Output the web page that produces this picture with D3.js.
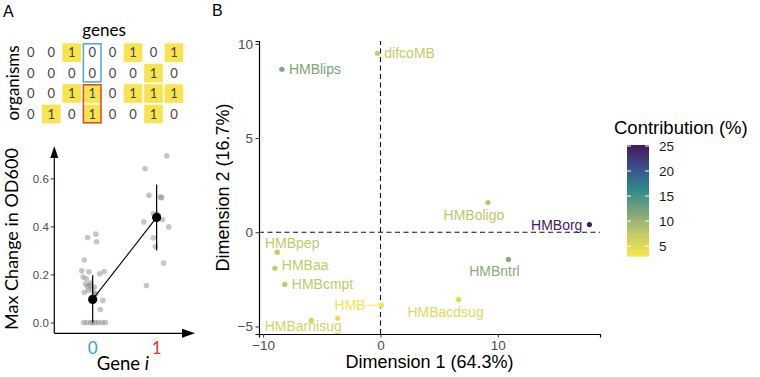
<!DOCTYPE html>
<html>
<head>
<meta charset="utf-8">
<script src="https://cdn.jsdelivr.net/npm/d3@7"></script>
<style>
  body { margin: 0; background: #fff; }
  svg { display: block; }
</style>
</head>
<body>
<svg id="fig" width="760" height="377"></svg>
<script>
// ---------------- panel A data ----------------
const genes = d3.range(8)
const organisms = d3.range(4)
const presence = [
  [0, 0, 1, 0, 0, 1, 0, 1],
  [0, 0, 0, 0, 0, 0, 1, 0],
  [0, 0, 1, 1, 0, 1, 1, 1],
  [0, 1, 0, 1, 0, 0, 1, 0]
]
const geneStates = [0, 1]
// max change in OD600, with the horizontal jitter (in category units)
const od0 = [0.354, 0.368, 0.336, 0.26, 0.215, 0.211, 0.203, 0.212, 0.189, 0.182, 0.165, 0.155,
             0.148, 0.151, 0.138, 0.135, 0.123, 0.126, 0.16, 0.12, 0.092, 0.054,
             0, 0, 0, 0, 0, 0, 0, 0]
const jit0 = [-0.08, 0.05, 0.06, -0.13, -0.17, -0.06, 0.11, 0.18, -0.15, -0.1, -0.03, -0.04,
              0.03, -0.08, -0.01, -0.07, 0.02, -0.13, -0.11, 0.05, 0.16, 0.12,
              -0.14, -0.09, -0.03, 0, 0.04, 0.09, 0.15, 0.2]
const od1 = [0.694, 0.64, 0.53, 0.522, 0.52, 0.419, 0.454, 0.45, 0.428, 0.398, 0.353, 0.315, 0.248, 0.154]
const jit1 = [0.16, -0.18, -0.12, 0.06, 0.08, -0.2, -0.05, 0.02, 0.09, 0.19, -0.05, -0.02, 0.11, -0.16]
const odMean = [0.096, 0.4375]
const odLow = [0, 0.30]
const odHigh = [0.197, 0.575]
const odTicks = [0, 0.2, 0.4, 0.6]

// ---------------- panel B data ----------------
const conds = ["HMBlips", "difcoMB", "HMBoligo", "HMBorg", "HMBntrl", "HMBacdsug",
               "HMBpep", "HMBaa", "HMBcmpt", "HMBarnisug", "HMBx", "HMB"]
const condLabels = ["HMBlips", "difcoMB", "HMBoligo", "HMBorg", "HMBntrl", "HMBacdsug",
                    "HMBpep", "HMBaa", "HMBcmpt", "HMBarnisug", "", "HMB"]
const dim1 = [-8.4, -0.27, 9.15, 17.8, 10.9, 6.65, -8.8, -9.0, -8.15, -5.9, -3.64, 0.1]
const dim2 = [8.65, 9.5, 1.58, 0.41, -1.44, -3.58, -1.06, -1.91, -2.77, -4.68, -4.56, -3.87]
const contrib = [11.8, 7.3, 7.8, 24.8, 11.0, 5.0, 7.6, 7.4, 7.6, 6.0, 4.0, 3.2]
const dimTicksX = [-10, 0, 10]
const dimTicksY = [-5, 0, 5, 10]
const legendTicks = [5, 10, 15, 20, 25]

const svg = d3.select("#fig")
const sans = "'Liberation Sans', Arial, sans-serif"
const humanist = "Lato, 'Open Sans', sans-serif"

// panel letters
svg.append("text").attr("x", 3).attr("y", 17).text("A")
  .attr("font-family", sans).attr("font-size", 16)
svg.append("text").attr("x", 212).attr("y", 16).text("B")
  .attr("font-family", sans).attr("font-size", 16)

// ---------------- A: presence matrix ----------------
const gx = d3.scaleBand().domain(genes).range([21.6, 183.2]).paddingInner(0.09)
const oy = d3.scaleBand().domain(organisms).range([43.3, 123.3]).paddingInner(0.09)

const mat = svg.append("g")
const cells = []
organisms.forEach(r => genes.forEach(c => cells.push({r, c, v: presence[r][c]})))

mat.selectAll("rect.cell")
  .data(cells.filter(d => d.v == 1))
  .join("rect")
    .attr("class", "cell")
    .attr("x", d => gx(d.c))
    .attr("y", d => oy(d.r))
    .attr("width", gx.bandwidth())
    .attr("height", oy.bandwidth())
    .attr("fill", "#f8e44e")

mat.selectAll("text.digit")
  .data(cells)
  .join("text")
    .attr("class", "digit")
    .attr("x", d => gx(d.c) + gx.bandwidth() / 2)
    .attr("y", d => oy(d.r) + oy.bandwidth() / 2)
    .attr("dy", "0.36em")
    .attr("text-anchor", "middle")
    .attr("font-family", humanist)
    .attr("font-size", 13)
    .attr("fill", "#444")
    .text(d => d.v)

// highlight boxes around gene column 3
const boxCol = 3
const boxes = [{rows: [0, 1], color: "#4ea3dc"}, {rows: [2, 3], color: "#e2462f"}]
mat.selectAll("rect.box")
  .data(boxes)
  .join("rect")
    .attr("class", "box")
    .attr("x", gx(boxCol) + 0.5)
    .attr("y", d => oy(d.rows[0]) + 0.5)
    .attr("width", gx.bandwidth() - 1)
    .attr("height", d => oy(d.rows[1]) + oy.bandwidth() - oy(d.rows[0]) - 1)
    .attr("fill", "none")
    .attr("stroke", d => d.color)
    .attr("stroke-width", 1.5)

svg.append("text").attr("x", 104).attr("y", 36).attr("text-anchor", "middle")
  .attr("font-family", humanist).attr("font-size", 17).text("genes")
svg.append("text").attr("transform", "translate(19,83) rotate(-90)").attr("text-anchor", "middle")
  .attr("font-family", humanist).attr("font-size", 17).text("organisms")

// ---------------- A: jitter plot ----------------
const ax = d3.scaleLinear().domain([-0.6, 1.6]).range([54.3, 195])
const ay = d3.scaleLinear().domain([-0.045, 0.735]).range([333.3, 146])

const gA = svg.append("g")

// axes with arrow heads
gA.append("line").attr("x1", ax.range()[0]).attr("x2", ax.range()[1] - 8)
  .attr("y1", ay.range()[0]).attr("y2", ay.range()[0]).attr("stroke", "#000").attr("stroke-width", 1.2)
gA.append("line").attr("x1", ax.range()[0]).attr("x2", ax.range()[0])
  .attr("y1", ay.range()[0]).attr("y2", ay.range()[1] + 8).attr("stroke", "#000").attr("stroke-width", 1.2)
gA.append("path")
  .attr("d", `M${ax.range()[1]},${ay.range()[0]} l-13,-4.5 l0,9 Z`).attr("fill", "#000")
gA.append("path")
  .attr("d", `M${ax.range()[0]},${ay.range()[1]} l-4,12 l8,0 Z`).attr("fill", "#000")

const yAxisA = gA.append("g").attr("transform", `translate(${ax.range()[0]},0)`)
  .call(d3.axisLeft(ay).tickValues(odTicks).tickFormat(d3.format(".1f")).tickSize(3.5).tickPadding(2))
yAxisA.select(".domain").remove()
yAxisA.selectAll("line").attr("stroke", "#333")
yAxisA.selectAll("text").attr("font-family", sans).attr("font-size", 11.5).attr("fill", "#4d4d4d")

const pts = od0.map((v, i) => ({g: 0, v, j: jit0[i]}))
  .concat(od1.map((v, i) => ({g: 1, v, j: jit1[i]})))
gA.selectAll("circle.pt")
  .data(pts)
  .join("circle")
    .attr("class", "pt")
    .attr("cx", d => ax(d.g + d.j))
    .attr("cy", d => ay(d.v))
    .attr("r", 2.8)
    .attr("fill", "#808080")
    .attr("fill-opacity", 0.45)

// error bars, mean line, means
gA.selectAll("line.err")
  .data(geneStates)
  .join("line")
    .attr("class", "err")
    .attr("x1", d => ax(d)).attr("x2", d => ax(d))
    .attr("y1", d => ay(odLow[d])).attr("y2", d => ay(odHigh[d]))
    .attr("stroke", "#000").attr("stroke-width", 1.2)
gA.append("path")
  .datum(geneStates)
  .attr("d", d3.line().x(d => ax(d)).y(d => ay(odMean[d])))
  .attr("fill", "none").attr("stroke", "#000").attr("stroke-width", 1.1)
gA.selectAll("circle.mean")
  .data(geneStates)
  .join("circle")
    .attr("class", "mean")
    .attr("cx", d => ax(d)).attr("cy", d => ay(odMean[d]))
    .attr("r", 4.6).attr("fill", "#000")

const stateColor = ["#3a9fd9", "#e2352d"]
gA.selectAll("text.state")
  .data(geneStates)
  .join("text")
    .attr("class", "state")
    .attr("x", d => ax(d)).attr("y", 354)
    .attr("text-anchor", "middle")
    .attr("font-family", humanist).attr("font-size", 17)
    .attr("fill", d => stateColor[d])
    .text(d => d)

const gxTitle = gA.append("text").attr("x", 123).attr("y", 370).attr("text-anchor", "middle")
  .attr("font-family", humanist).attr("font-size", 18.5)
gxTitle.append("tspan").text("Gene ")
gxTitle.append("tspan").attr("font-style", "italic").text("i")

gA.append("text").attr("transform", "translate(18,239) rotate(-90)").attr("text-anchor", "middle")
  .attr("font-family", humanist).attr("font-size", 18).text("Max Change in OD600")

// ---------------- B: PCA scatter ----------------
const bx = d3.scaleLinear().domain([-10.35, 18.7]).range([259, 600])
const by = d3.scaleLinear().domain([-5.4, 10.15]).range([334, 41])

const colorStops = ["#f4e84c", "#c4cb67", "#7ea47b", "#2e8a8a", "#3c4e8a", "#46175b"]
const color = d3.scaleSequential(d3.piecewise(d3.interpolateRgb, colorStops)).domain([2.9, 25.2])

const gB = svg.append("g")

// reference lines
gB.append("line").attr("x1", bx.range()[0]).attr("x2", bx.range()[1])
  .attr("y1", by(0)).attr("y2", by(0))
  .attr("stroke", "#111").attr("stroke-width", 1.1).attr("stroke-dasharray", "5,3.5")
gB.append("line").attr("x1", bx(0)).attr("x2", bx(0))
  .attr("y1", by.range()[0]).attr("y2", by.range()[1])
  .attr("stroke", "#111").attr("stroke-width", 1.1).attr("stroke-dasharray", "5,3.5")

const xAxisB = gB.append("g").attr("transform", `translate(0,${by.range()[0]})`)
  .call(d3.axisBottom(bx).tickValues(dimTicksX).tickSize(3.5).tickPadding(3)
    .tickFormat(d => d < 0 ? "\u2212" + Math.abs(d) : d))
const yAxisB = gB.append("g").attr("transform", `translate(${bx.range()[0]},0)`)
  .call(d3.axisLeft(by).tickValues(dimTicksY).tickSize(3.5).tickPadding(2.5)
    .tickFormat(d => d < 0 ? "\u2212" + Math.abs(d) : d))
for (const a of [xAxisB, yAxisB]) {
  a.select(".domain").attr("stroke", "#000").attr("stroke-width", 1.2)
  a.selectAll("line").attr("stroke", "#333")
  a.selectAll("text").attr("font-family", sans).attr("font-size", 13.5).attr("fill", "#4d4d4d")
}

const pca = conds.map((name, i) => ({name, label: condLabels[i], x: dim1[i], y: dim2[i], c: contrib[i]}))

// where each label sits, relative to its point (ggrepel result)
const nudge = {
  HMBlips:    {dx: 7, dy: 0, anchor: "start"},
  difcoMB:    {dx: 7, dy: 0, anchor: "start"},
  HMBoligo:   {dx: -14, dy: 12, anchor: "middle"},
  HMBorg:     {dx: -7, dy: 0, anchor: "end"},
  HMBntrl:    {dx: -14, dy: 12, anchor: "middle"},
  HMBacdsug:  {dx: -13, dy: 12, anchor: "middle"},
  HMBpep:     {dx: 15, dy: -9, anchor: "middle"},
  HMBaa:      {dx: 7, dy: -3, anchor: "start"},
  HMBcmpt:    {dx: 7, dy: 0, anchor: "start"},
  HMBarnisug: {dx: -8, dy: 6, anchor: "middle"},
  HMBx:       {dx: 0, dy: 0, anchor: "middle"},
  HMB:        {dx: -16, dy: 0, anchor: "end", seg: true}
}

gB.selectAll("line.seg")
  .data(pca.filter(d => nudge[d.name].seg))
  .join("line")
    .attr("class", "seg")
    .attr("x1", d => bx(d.x) + nudge[d.name].dx + 1).attr("x2", d => bx(d.x))
    .attr("y1", d => by(d.y)).attr("y2", d => by(d.y))
    .attr("stroke", d => color(d.c)).attr("stroke-width", 1)

gB.selectAll("circle.pc")
  .data(pca)
  .join("circle")
    .attr("class", "pc")
    .attr("cx", d => bx(d.x)).attr("cy", d => by(d.y))
    .attr("r", 2.6)
    .attr("fill", d => color(d.c))

gB.selectAll("text.pl")
  .data(pca.filter(d => d.label != ""))
  .join("text")
    .attr("class", "pl")
    .attr("x", d => bx(d.x) + nudge[d.name].dx)
    .attr("y", d => by(d.y) + nudge[d.name].dy)
    .attr("dy", "0.36em")
    .attr("text-anchor", d => nudge[d.name].anchor)
    .attr("font-family", sans).attr("font-size", 14)
    .attr("fill", d => color(d.c))
    .text(d => d.label)

gB.append("text").attr("x", (bx.range()[0] + bx.range()[1]) / 2).attr("y", 368)
  .attr("text-anchor", "middle").attr("font-family", sans).attr("font-size", 18)
  .text("Dimension 1 (64.3%)")
gB.append("text").attr("transform", `translate(229,${(by.range()[0] + by.range()[1]) / 2}) rotate(-90)`)
  .attr("text-anchor", "middle").attr("font-family", sans).attr("font-size", 18)
  .text("Dimension 2 (16.7%)")

// ---------------- B: colour bar ----------------
const ly = d3.scaleLinear().domain(color.domain()).range([256.7, 145])
const lx0 = 627, lw = 22
const grad = svg.append("defs").append("linearGradient")
  .attr("id", "cbar").attr("x1", 0).attr("x2", 0).attr("y1", 1).attr("y2", 0)
grad.selectAll("stop")
  .data(d3.range(0, 1.001, 0.05))
  .join("stop")
    .attr("offset", d => d)
    .attr("stop-color", d => color(color.domain()[0] + d * (color.domain()[1] - color.domain()[0])))
svg.append("rect").attr("x", lx0).attr("y", ly.range()[1]).attr("width", lw)
  .attr("height", ly.range()[0] - ly.range()[1]).attr("fill", "url(#cbar)")
const lg = svg.append("g")
lg.selectAll("line.lt")
  .data(legendTicks.flatMap(t => [{t, x: lx0}, {t, x: lx0 + lw - 4}]))
  .join("line")
    .attr("class", "lt")
    .attr("x1", d => d.x).attr("x2", d => d.x + 4)
    .attr("y1", d => ly(d.t)).attr("y2", d => ly(d.t))
    .attr("stroke", "#fff").attr("stroke-width", 1)
lg.selectAll("text")
  .data(legendTicks)
  .join("text")
    .attr("x", 659).attr("y", d => ly(d)).attr("dy", "0.36em")
    .attr("font-family", sans).attr("font-size", 13.5).attr("fill", "#1a1a1a")
    .text(d => d)
svg.append("text").attr("x", 614).attr("y", 134)
  .attr("font-family", sans).attr("font-size", 18.5).text("Contribution (%)")
</script>
</body>
</html>
